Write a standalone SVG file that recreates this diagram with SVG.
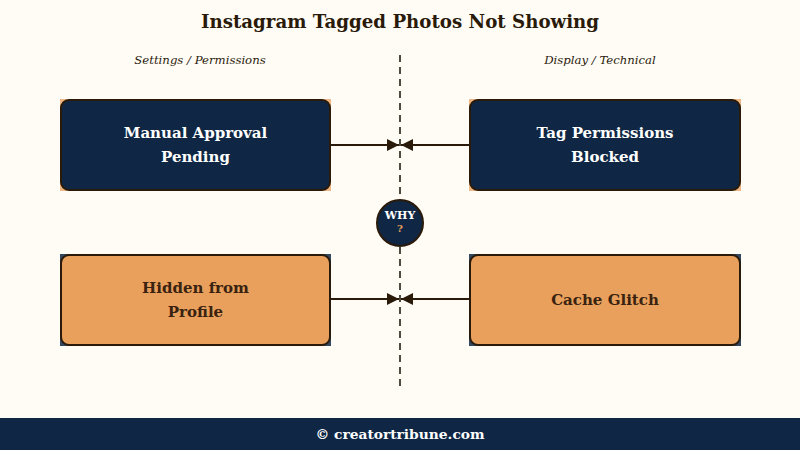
<svg xmlns="http://www.w3.org/2000/svg" width="800" height="450" viewBox="0 0 800 450">
<defs>
<style>
text{font-family:"DejaVu Serif","Liberation Serif",serif;text-anchor:middle}
.title{font-size:18.2px;font-weight:bold;fill:#2a1a0a}
.sub{font-size:11.7px;font-style:italic;fill:#2a1a0a}
.lbl{font-size:15px;font-weight:bold}
.dark .bg{fill:#e8a05c;opacity:0.75}
.dark .box{fill:#0f2744;stroke:#2a1a0a;stroke-width:2}
.dark text{fill:#ffffff}
.light .bg{fill:#0f2744;opacity:0.85}
.light .box{fill:#e8a05c;stroke:#2a1a0a;stroke-width:2}
.light text{fill:#3a2210}
.conn{stroke:#2a1a0a;stroke-width:2;fill:none}
</style>
<marker id="ah" viewBox="0 0 10 10" refX="10" refY="5" markerWidth="6" markerHeight="6" orient="auto" markerUnits="strokeWidth">
<path d="M0,0 L10,5 L0,10 z" fill="#2a1a0a"/>
</marker>
</defs>
<rect width="800" height="450" fill="#fffcf6"/>
<text class="title" x="400" y="28">Instagram Tagged Photos Not Showing</text>
<text class="sub" x="200" y="64">Settings / Permissions</text>
<text class="sub" x="600" y="64">Display / Technical</text>
<line x1="400" y1="55" x2="400" y2="390" stroke="#4f4a3e" stroke-width="2" stroke-dasharray="7,5"/>
<g id="connectors">
<line class="conn" x1="331" y1="145" x2="399" y2="145" marker-end="url(#ah)"/>
<line class="conn" x1="470" y1="145" x2="401" y2="145" marker-end="url(#ah)"/>
<line class="conn" x1="331" y1="299" x2="399" y2="299" marker-end="url(#ah)"/>
<line class="conn" x1="470" y1="299" x2="401" y2="299" marker-end="url(#ah)"/>
</g>
<g id="n1" class="dark">
<rect class="bg" x="60" y="99" width="271" height="92"/>
<rect class="box" x="61" y="100" width="269" height="90" rx="8"/>
<text class="lbl" x="195.5" y="138">Manual Approval</text>
<text class="lbl" x="195.5" y="162">Pending</text>
</g>
<g id="n2" class="dark">
<rect class="bg" x="469" y="99" width="272" height="92"/>
<rect class="box" x="470" y="100" width="270" height="90" rx="8"/>
<text class="lbl" x="605" y="138">Tag Permissions</text>
<text class="lbl" x="605" y="162">Blocked</text>
</g>
<g id="n3" class="light">
<rect class="bg" x="60" y="254" width="271" height="92"/>
<rect class="box" x="61" y="255" width="269" height="90" rx="8"/>
<text class="lbl" x="195.5" y="293">Hidden from</text>
<text class="lbl" x="195.5" y="317">Profile</text>
</g>
<g id="n4" class="light">
<rect class="bg" x="469" y="254" width="272" height="92"/>
<rect class="box" x="470" y="255" width="270" height="90" rx="8"/>
<text class="lbl" x="605" y="305">Cache Glitch</text>
</g>
<g id="why">
<circle cx="400" cy="223" r="23" fill="#0f2744" stroke="#2a1a0a" stroke-width="2"/>
<text x="400" y="219" font-size="11" font-weight="bold" fill="#ffffff">WHY</text>
<text x="400" y="232" font-size="10" font-weight="bold" fill="#e8a05c">?</text>
</g>
<rect x="0" y="418" width="800" height="32" fill="#0f2744"/>
<text x="400" y="439" font-size="13.8" font-weight="bold" fill="#ffffff">© creatortribune.com</text>
</svg>
